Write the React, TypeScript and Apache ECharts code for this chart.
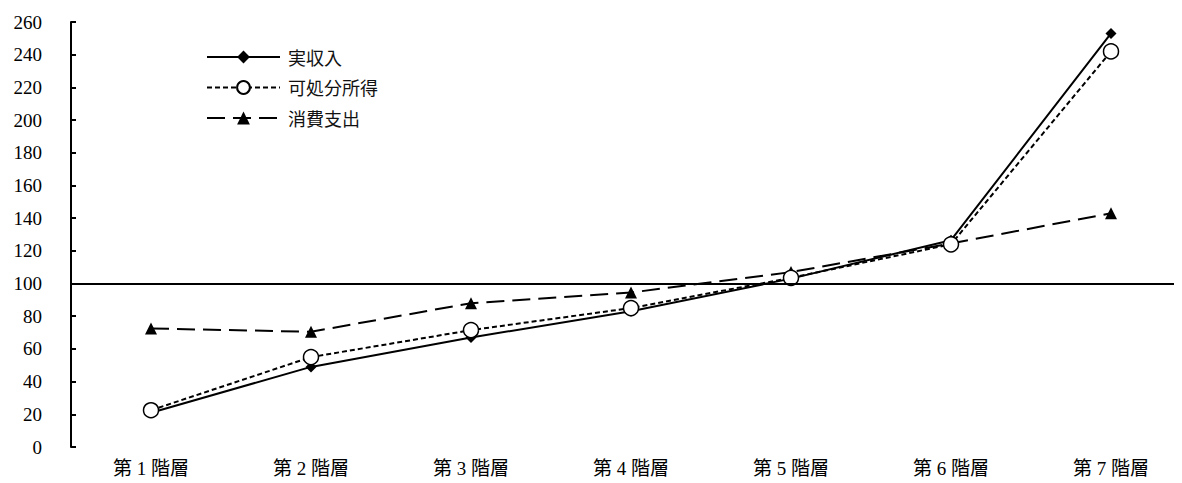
import React, { useEffect, useRef } from "react";
import * as echarts from "echarts";

const categories = ["第 1 階層", "第 2 階層", "第 3 階層", "第 4 階層", "第 5 階層", "第 6 階層", "第 7 階層"];
const seriesNames = ["実収入", "可処分所得", "消費支出"];
const actualIncome = [21, 49, 67, 83, 103, 126.5, 253];
const disposableIncome = [22.5, 55, 71.5, 85, 103.5, 124, 242];
const consumption = [72.5, 70.5, 88, 94.5, 107, 124.5, 143];
const yTicks = { min: 0, max: 260, interval: 20 };
const baseline = 100;

export default function App() {
  const ref = useRef<HTMLDivElement>(null);
  useEffect(() => {
    if (!ref.current) return;
    const chart = echarts.init(ref.current, undefined, { renderer: "svg" });
    const serif = "'Liberation Serif', serif";
    const cjk = "'Noto Sans CJK JP', sans-serif";
    const mixed = "'Liberation Serif', 'Noto Sans CJK JP', serif";
    chart.setOption({
      animation: false,
      backgroundColor: "#ffffff",
      grid: { left: 63, width: 1120, top: 14, bottom: 36, containLabel: false, outerBoundsMode: "none" },
      legend: {
        orient: "vertical",
        left: 193,
        top: 35,
        itemWidth: 73,
        itemHeight: 16,
        itemGap: 12.5,
        textStyle: { fontFamily: cjk, fontSize: 18, color: "#111", padding: [0, 0, 0, 3] },
        data: seriesNames,
      },
      xAxis: {
        type: "category",
        data: categories,
        boundaryGap: true,
        axisLine: { show: false },
        axisTick: { show: false },
        axisLabel: { color: "#000", fontFamily: mixed, fontSize: 19, margin: 12 },
      },
      yAxis: {
        type: "value",
        min: yTicks.min,
        max: yTicks.max,
        interval: yTicks.interval,
        splitLine: { show: false },
        axisLine: { show: true, lineStyle: { color: "#000", width: 2 } },
        axisTick: { show: true, inside: true, length: 5, lineStyle: { color: "#000", width: 2 } },
        axisLabel: { color: "#000", fontFamily: serif, fontSize: 19, margin: 29 },
      },
      series: [
        {
          name: seriesNames[0],
          type: "line",
          data: actualIncome,
          symbol: "diamond",
          symbolSize: 11,
          itemStyle: { color: "#000" },
          lineStyle: { color: "#000", width: 2, type: "solid" },
          z: 3,
          markLine: {
            silent: true,
            symbol: "none",
            label: { show: false },
            lineStyle: { color: "#000", width: 2, type: "solid" },
            data: [{ yAxis: baseline }],
          },
        },
        {
          name: seriesNames[1],
          type: "line",
          data: disposableIncome,
          symbol: "circle",
          symbolSize: 15,
          itemStyle: { color: "#fff", borderColor: "#000", borderWidth: 1.5 },
          lineStyle: { color: "#000", width: 2, type: [5, 3] },
          z: 4,
        },
        {
          name: seriesNames[2],
          type: "line",
          data: consumption,
          symbol: "triangle",
          symbolSize: 12,
          itemStyle: { color: "#000" },
          lineStyle: { color: "#000", width: 2, type: [18, 8] },
          z: 2,
        },
      ],
    });
    return () => chart.dispose();
  }, []);
  return <div ref={ref} style={{ width: 1174, height: 475 }} />;
}
